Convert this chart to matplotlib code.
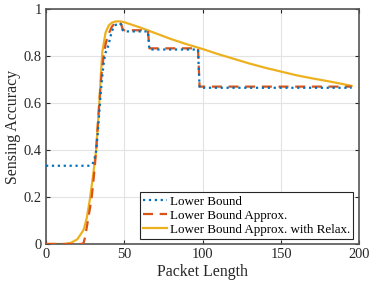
import matplotlib
matplotlib.use('Agg')
import matplotlib.pyplot as plt

plt.rcParams['font.family'] = ['Liberation Serif', 'DejaVu Serif']
plt.rcParams['mathtext.fontset'] = 'stix'

# Lower Bound (dotted blue)
lb_x = [0, 28, 29, 30, 31, 32, 33, 34, 35, 36, 37, 38, 39, 40, 41, 42, 43, 44, 45,
        46, 47, 48, 49, 50, 65, 66, 97, 98, 195]
lb_y = [0.333, 0.333, 0.335, 0.345, 0.365, 0.395, 0.47, 0.56, 0.65, 0.72, 0.78, 0.815,
        0.83, 0.85, 0.88, 0.905, 0.92, 0.93, 0.935, 0.938, 0.94, 0.935, 0.91, 0.905,
        0.905, 0.828, 0.828, 0.665, 0.665]

# Lower Bound Approx. (dashed orange)
ap_x = [0, 23, 24, 25, 26, 27, 28, 29, 30, 31, 32, 33, 34, 35, 36, 37, 38, 39, 40,
        42, 44, 46, 48, 49, 50, 65, 66, 97, 98, 195]
ap_y = [0, 0, 0.005, 0.03, 0.07, 0.11, 0.15, 0.19, 0.25, 0.32, 0.40, 0.50, 0.60, 0.69,
        0.76, 0.81, 0.85, 0.875, 0.895, 0.925, 0.94, 0.945, 0.935, 0.912, 0.91, 0.91,
        0.833, 0.833, 0.67, 0.67]

# Lower Bound Approx. with Relax. (solid yellow)
rx_x = [0, 12, 16, 20, 24, 26, 28, 30, 32, 34, 35, 36, 38, 40, 42, 44, 46, 48, 50,
        60, 70, 80, 90, 100, 110, 120, 130, 140, 150, 160, 170, 180, 190, 195]
rx_y = [0, 0, 0.005, 0.02, 0.06, 0.11, 0.19, 0.29, 0.40, 0.60, 0.72, 0.82, 0.90, 0.93,
        0.942, 0.947, 0.948, 0.947, 0.944, 0.922, 0.897, 0.872, 0.85, 0.83, 0.808,
        0.788, 0.768, 0.75, 0.734, 0.718, 0.705, 0.693, 0.68, 0.673]

fig = plt.figure(figsize=(3.74, 2.85), dpi=100)
ax = fig.add_axes([0.123, 0.144, 0.838, 0.824])

ax.plot(rx_x, rx_y, color='#EDB120', lw=1.6, label='Lower Bound Approx. with Relax.', zorder=2)
ax.plot(ap_x, ap_y, color='#D95319', lw=1.6, dashes=(4.5, 3), label='Lower Bound Approx.', zorder=3)
ax.plot(lb_x, lb_y, color='#0072BD', lw=1.6, linestyle=':', label='Lower Bound', zorder=4)

ax.set_xlim(0, 200)
ax.set_ylim(0, 1)
ax.set_xticks([0, 50, 100, 150, 200])
ax.set_yticks([0, 0.2, 0.4, 0.6, 0.8, 1])
ax.set_yticklabels(['0', '0.2', '0.4', '0.6', '0.8', '1'])
ax.grid(True, color='#e3e3e3', lw=0.8)
ax.set_axisbelow(True)
ax.tick_params(direction='in', top=True, right=True, length=3, width=0.8,
               labelsize=10.4, colors='#262626', pad=3)
for s in ax.spines.values():
    s.set_color('#555555')
    s.set_linewidth(1.2)

ax.set_xlabel('Packet Length', fontsize=11.4, color='#262626', labelpad=2)
ax.set_ylabel('Sensing Accuracy', fontsize=11.4, color='#262626', labelpad=2)

h, l = ax.get_legend_handles_labels()
leg = ax.legend(h[::-1], l[::-1], loc='lower right', bbox_to_anchor=(0.981, 0.021),
                borderaxespad=0, fontsize=9.4, fancybox=False, framealpha=1,
                edgecolor='#262626', handlelength=1.8, handletextpad=0.25,
                labelspacing=0.15, borderpad=0.25)
leg.get_frame().set_linewidth(0.8)

fig.savefig('out.png', dpi=100)
